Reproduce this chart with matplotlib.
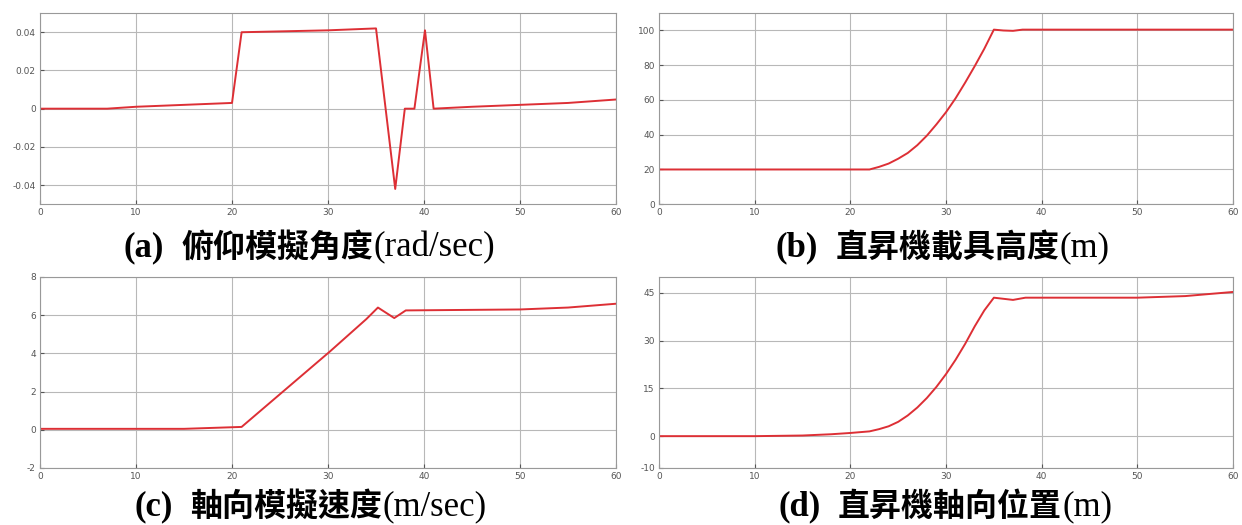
import matplotlib
matplotlib.use("Agg")
import matplotlib.pyplot as plt
from matplotlib.offsetbox import TextArea, HPacker, AnnotationBbox

# (a) 俯仰模擬角度
pitch_t = [0, 7, 10, 15, 20, 21, 30, 35, 37, 38, 39, 40.1, 41, 45, 50, 55, 60]
pitch_v = [0, 0, 0.001, 0.002, 0.003, 0.040, 0.041, 0.042, -0.042, 0, 0, 0.041, 0, 0.001, 0.002, 0.003, 0.0048]

# (b) 直昇機載具高度
alt_t = [0, 10, 20, 22, 23, 24, 25, 26, 27, 28, 29, 30, 31, 32, 33, 34, 35, 36, 37, 38, 50, 60]
alt_v = [20, 20, 20, 20, 21.5, 23.4, 26.2, 29.5, 34, 39.5, 46, 53, 61, 70, 79.5, 89.5, 100.5, 100, 99.8, 100.5, 100.5, 100.5]

# (c) 軸向模擬速度
vel_t = [0, 15, 18, 21, 30.2, 34.0, 35.2, 36.9, 38.1, 50, 55, 60]
vel_v = [0.05, 0.05, 0.1, 0.15, 4.1, 5.8, 6.4, 5.85, 6.25, 6.3, 6.4, 6.6]

# (d) 直昇機軸向位置
pos_t = [0, 10, 15, 18, 20, 22, 23, 24, 25, 26, 27, 28, 29, 30, 31, 32, 33, 34, 35, 37, 38.3, 50, 55, 60]
pos_v = [0, 0, 0.2, 0.6, 1.0, 1.5, 2.2, 3.1, 4.5, 6.5, 9, 12, 15.5, 19.5, 24, 29, 34.5, 39.5, 43.5, 42.8, 43.5, 43.5, 44, 45.3]

x_ticks = [0, 10, 20, 30, 40, 50, 60]

panels = [
    (pitch_t, pitch_v, (-0.05, 0.05), [-0.04, -0.02, 0, 0.02, 0.04], ["-0.04", "-0.02", "0", "0.02", "0.04"],
     [0.0322, 0.611, 0.4638, 0.364], "(a)", "俯仰模擬角度", "(rad/sec)", (0.249, 0.528)),
    (alt_t, alt_v, (0, 110), [0, 20, 40, 60, 80, 100], ["0", "20", "40", "60", "80", "100"],
     [0.5306, 0.611, 0.4622, 0.364], "(b)", "直昇機載具高度", "(m)", (0.759, 0.528)),
    (vel_t, vel_v, (-2, 8), [-2, 0, 2, 4, 6, 8], ["-2", "0", "2", "4", "6", "8"],
     [0.0322, 0.1086, 0.4638, 0.3638], "(c)", "軸向模擬速度", "(m/sec)", (0.25, 0.034)),
    (pos_t, pos_v, (-10, 50), [-10, 0, 15, 30, 45], ["-10", "0", "15", "30", "45"],
     [0.5306, 0.1086, 0.4622, 0.3638], "(d)", "直昇機軸向位置", "(m)", (0.761, 0.034)),
]

fig = plt.figure(figsize=(12.42, 5.25), dpi=100)

for t, v, ylim, yt, ytl, rect, tag, cn, unit, tpos in panels:
    ax = fig.add_axes(rect)
    ax.plot(t, v, color="#dd2f35", lw=1.4)
    ax.set_xlim(0, 60)
    ax.set_ylim(*ylim)
    ax.set_xticks(x_ticks)
    ax.set_yticks(yt)
    ax.set_yticklabels(ytl)
    ax.grid(True, color="#b8b8b8", lw=0.8)
    ax.tick_params(direction="in", length=3, labelsize=6.5, colors="#555555", pad=3)
    for s in ax.spines.values():
        s.set_color("#999999")
        s.set_linewidth(0.8)

    # 標題：粗體英文標號 + 粗體中文 + 一般字體單位
    parts = [
        TextArea(tag, textprops=dict(family="Liberation Serif", weight="bold", size=25)),
        TextArea("  ", textprops=dict(family="Liberation Serif", size=25)),
        TextArea(cn, textprops=dict(family="Noto Sans CJK TC", weight="bold", size=23)),
        TextArea(unit, textprops=dict(family="Liberation Serif", size=25)),
    ]
    box = HPacker(children=parts, align="baseline", pad=0, sep=0)
    ab = AnnotationBbox(box, tpos, xycoords="figure fraction", frameon=False,
                        box_alignment=(0.5, 0.5))
    fig.add_artist(ab)

fig.savefig("out.png", dpi=100)
